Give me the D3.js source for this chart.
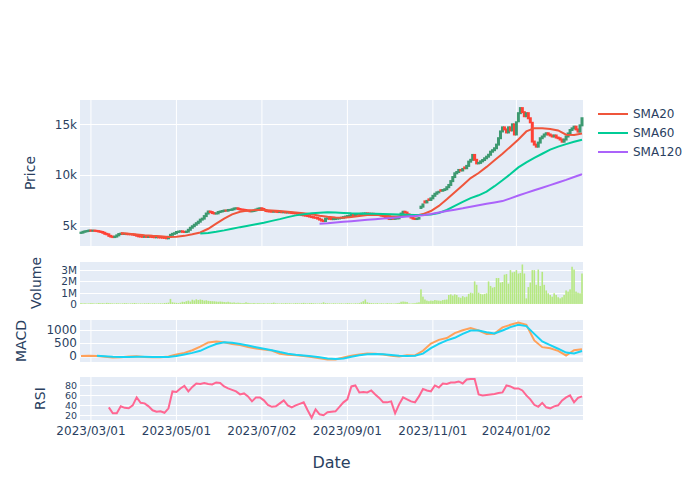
<!DOCTYPE html>
<html>
<head>
<meta charset="utf-8">
<script src="https://cdn.jsdelivr.net/npm/d3@7"></script>
<style>
  body { margin: 0; background: #fff; }
  svg { display: block; }
  text { font-family: "DejaVu Sans", Verdana, sans-serif; }
</style>
</head>
<body>
<div id="chart"></div>
<script>
// x axis: one slot per trading day, labels at a few of them
const tickIdx = [5, 48, 91, 134, 177, 219]
const tickLabels = ["2023/03/01", "2023/05/01", "2023/07/02", "2023/09/01", "2023/11/01", "2024/01/02"]

// daily candles (open / close)
const close = [
  4320,4400,4450,4480,4530,4500,4520,4490,4470,4420,
  4380,4300,4200,4150,4000,3920,3880,3930,4050,4180,
  4220,4190,4200,4170,4160,4150,4120,4080,4010,3950,
  3930,3900,3920,3890,3910,3900,3880,3860,3870,3850,
  3840,3820,3800,3760,3900,4100,4200,4260,4380,4420,
  4450,4400,4380,4420,4600,4800,4950,5100,5250,5400,
  5600,5700,5950,6200,6400,6350,6250,6200,6220,6350,
  6400,6450,6500,6480,6550,6560,6620,6700,6720,6650,
  6600,6580,6550,6500,6480,6420,6450,6500,6600,6680,
  6720,6650,6550,6450,6420,6400,6380,6400,6380,6350,
  6360,6330,6340,6300,6320,6280,6250,6230,6220,6180,
  6100,6050,6020,5990,5950,5900,5850,5800,5780,5700,
  5600,5500,5460,5700,5720,5680,5650,5660,5700,5720,
  5760,5790,5850,5900,5950,6000,6060,6050,6100,6150,
  6120,6180,6200,6220,6200,6150,6180,6120,6100,6080,
  6060,6000,5950,5850,5750,5660,5700,5680,5720,5730,
  5900,6200,6380,6300,6120,5950,5800,5700,5660,5700,
  5760,6880,7100,7300,7450,7540,7700,7950,8150,8290,
  8350,8450,8520,8600,8800,9020,9400,9800,10170,10300,
  10500,10450,10600,10670,10900,11320,11500,11980,11500,11150,
  11200,11350,11480,11650,11810,12000,12300,12450,12640,13000,
  13630,14300,14700,14500,14200,14700,14400,15000,14000,15200,
  16100,16600,16200,15800,16100,15600,15200,13300,13000,12800,
  13200,13630,13800,14000,14120,14000,13900,13800,13900,13700,
  13630,13500,13290,13500,13800,14100,14440,14600,14770,14500,
  14280,14900,15600
]
const open = [
  4290,4320,4400,4450,4480,4530,4500,4520,4490,4470,
  4420,4380,4300,4200,4150,4000,3920,3880,3930,4050,
  4180,4220,4190,4200,4170,4160,4150,4120,4080,4010,
  3950,3930,3900,3920,3890,3910,3900,3880,3860,3870,
  3850,3840,3820,3800,3760,3900,4100,4200,4260,4380,
  4420,4450,4400,4380,4420,4600,4800,4950,5100,5250,
  5400,5600,5700,5950,6200,6400,6350,6250,6200,6220,
  6350,6400,6450,6500,6480,6550,6560,6620,6700,6720,
  6650,6600,6580,6550,6500,6480,6420,6450,6500,6600,
  6680,6720,6650,6550,6450,6420,6400,6380,6400,6380,
  6350,6360,6330,6340,6300,6320,6280,6250,6230,6220,
  6180,6100,6050,6020,5990,5950,5900,5850,5800,5780,
  5700,5600,5500,5460,5700,5720,5680,5650,5660,5700,
  5720,5760,5790,5850,5900,5950,6000,6060,6050,6100,
  6150,6120,6180,6200,6220,6200,6150,6180,6120,6100,
  6080,6060,6000,5950,5850,5750,5660,5700,5680,5720,
  5730,5900,6200,6380,6300,6120,5950,5800,5700,5660,
  5700,6750,6880,7400,7300,7600,7540,7700,7950,8150,
  8290,8500,8450,8520,8600,8800,9020,9400,9800,10170,
  10300,10500,10450,10750,10670,10900,11320,11500,11980,11500,
  11150,11200,11350,11480,11650,11810,12000,12300,12450,12640,
  13000,13630,14300,14700,14500,14200,14700,14400,15000,14000,
  15300,16100,16600,16200,15800,16100,15600,15150,13300,13000,
  12800,13200,13630,13800,14000,14120,14000,13900,13800,13900,
  13700,13630,13500,13290,13500,13800,14100,14440,14600,14770,
  14500,14280,14900
]

// volume in millions, one per day
const volume = [
  0.08,0.06,0.07,0.05,0.06,0.08,0.07,0.05,0.06,0.09,
  0.07,0.08,0.06,0.1,0.08,0.07,0.06,0.05,0.07,0.06,
  0.05,0.06,0.08,0.07,0.05,0.06,0.07,0.09,0.06,0.05,
  0.06,0.05,0.07,0.06,0.08,0.05,0.06,0.07,0.05,0.06,
  0.07,0.06,0.09,0.1,0.12,0.45,0.15,0.12,0.1,0.08,
  0.12,0.2,0.18,0.25,0.3,0.22,0.38,0.32,0.42,0.35,
  0.4,0.36,0.3,0.33,0.28,0.26,0.25,0.24,0.22,0.2,
  0.22,0.2,0.18,0.16,0.2,0.15,0.12,0.14,0.1,0.12,
  0.1,0.08,0.09,0.15,0.1,0.08,0.07,0.09,0.06,0.08,
  0.07,0.06,0.08,0.05,0.07,0.06,0.08,0.12,0.07,0.06,
  0.05,0.07,0.06,0.08,0.06,0.07,0.05,0.06,0.08,0.07,
  0.06,0.08,0.1,0.07,0.06,0.08,0.09,0.07,0.06,0.05,
  0.06,0.07,0.15,0.08,0.07,0.06,0.05,0.07,0.06,0.05,
  0.06,0.07,0.05,0.06,0.08,0.07,0.06,0.05,0.07,0.06,
  0.08,0.15,0.25,0.4,0.15,0.1,0.08,0.07,0.06,0.08,
  0.05,0.07,0.06,0.05,0.08,0.06,0.07,0.05,0.06,0.08,
  0.1,0.2,0.22,0.2,0.18,0.06,0.05,0.07,0.08,0.12,
  0.15,1.3,0.65,0.4,0.3,0.25,0.3,0.28,0.35,0.32,
  0.3,0.28,0.35,0.38,0.4,0.8,0.85,0.75,0.85,0.8,
  0.6,0.55,0.7,0.6,0.65,0.9,1.0,0.95,2.0,1.7,
  1.0,0.9,0.85,0.9,0.95,2.0,1.6,1.45,1.5,2.3,
  2.3,1.9,1.95,2.6,2.65,1.8,3.0,2.8,2.85,3.0,
  2.7,2.75,3.5,2.7,0.5,1.5,1.9,3.0,3.0,1.7,
  3.05,1.6,2.85,1.7,1.2,0.95,0.8,0.65,0.95,0.8,
  0.6,0.5,0.6,0.8,1.2,1.1,1.3,3.3,3.05,1.1,
  1.0,0.95,2.7
]

// moving averages, read every 4 days from their first day
const smaStep = 4
const sma20Start = 20
const sma20 = [4280,4220,4140,4060,4000,3960,3900,3920,4000,4150,
  4330,4700,5200,5700,6120,6380,6500,6550,6560,6500,
  6440,6370,6300,6230,6130,5980,5880,5800,5780,5860,
  5960,6050,6080,6020,5930,5920,5980,5960,6150,6450,
  6950,7600,8300,9000,9700,10200,10800,11450,12100,12800,
  13500,14300,14620,14620,14550,14400,13980,13950,14100]
const sma60Start = 60
const sma60 = [4230,4280,4400,4540,4700,4860,5000,5150,5300,5480,
  5650,5850,6020,6130,6220,6280,6320,6300,6260,6220,
  6200,6180,6170,6150,6120,6100,6080,6060,6060,6100,
  6250,6550,6950,7350,7720,8000,8360,8900,9480,10100,
  10750,11250,11700,12100,12500,12800,13050,13280,13480]
const sma120Start = 120
const sma120 = [5200,5250,5320,5390,5450,5520,5590,5650,5710,5770,
  5840,5900,5960,6040,6160,6300,6450,6580,6720,6880,
  7020,7160,7300,7430,7700,7980,8240,8500,8750,9000,
  9260,9520,9800,10080]

// MACD and signal, every 4 days
const macdStart = 0
const macd = [0,10,0,-30,-55,-45,-20,-10,-40,-50,
  -45,-20,60,120,220,360,520,560,530,460,
  420,350,290,250,210,90,50,30,0,-40,
  -90,-130,-130,-60,10,60,95,90,60,10,
  -20,30,20,200,480,620,690,880,990,1080,
  980,850,860,1100,1200,1290,1200,600,340,300,
  200,20,220,260]
const signalStart = 8
const signal = [10,-10,-30,-40,-35,-30,-30,-35,-40,-35,
  0,60,120,200,340,460,530,510,460,400,
  340,280,220,150,90,50,20,-10,-50,-95,
  -115,-100,-30,30,70,80,65,35,5,0,
  10,90,300,470,600,700,850,980,980,910,
  870,980,1110,1200,1150,850,560,420,280,130,
  100,190]

// RSI, every 2 days
const rsiStart = 14
const rsiStep = 2
const rsi = [36,24,24,38,35,34,40,56,45,44,
  38,30,27,28,25,34,68,67,74,79,
  68,77,84,83,85,83,82,86,85,78,
  74,71,68,62,64,58,48,56,56,50,
  41,37,38,44,50,40,36,40,43,46,
  30,15,32,22,20,26,27,28,37,46,
  52,78,80,66,67,66,70,62,55,46,
  46,48,24,42,56,52,48,46,58,73,
  70,68,80,76,84,83,86,86,88,84,
  92,93,93,62,60,61,62,63,65,66,
  80,78,74,74,70,60,52,41,37,45,
  36,34,38,40,50,56,60,46,55,58]

const seriesNames = ["SMA20", "SMA60", "SMA120"]
const seriesColors = ["#EF553B", "#00CC96", "#AB63FA"]

const left = 80, right = 583
const textColor = "#2a3f5f"
const n = close.length

const svg = d3.select("#chart").append("svg").attr("width", 700).attr("height", 500)

const x = d3.scaleBand().domain(d3.range(n)).range([left, right]).padding(0)
const xc = i => x(i) + x.bandwidth() / 2

const toPoints = (vals, start, step) => vals.map((v, k) => ({ i: start + k * step, v }))

function panel(p) {
    const y = d3.scaleLinear().domain(p.domain).range([p.bottom, p.top])
    const g = svg.append("g")
    g.append("rect")
        .attr("x", left).attr("y", p.top)
        .attr("width", right - left).attr("height", p.bottom - p.top)
        .attr("fill", "#E5ECF6")
    if (p.vgrid) {
        g.selectAll(null).data(tickIdx).join("line")
            .attr("x1", xc).attr("x2", xc)
            .attr("y1", p.top).attr("y2", p.bottom)
            .attr("stroke", "#fff").attr("stroke-width", 1)
    }
    g.selectAll(null).data(p.ticks).join("line")
        .attr("x1", left).attr("x2", right)
        .attr("y1", d => Math.round(y(d)) + 0.5).attr("y2", d => Math.round(y(d)) + 0.5)
        .attr("stroke", "#fff")
        .attr("stroke-width", d => (d === 0 ? 2 : 1))

    const ax = g.append("g")
        .attr("transform", `translate(${left},0)`)
        .call(d3.axisLeft(y).tickValues(p.ticks).tickFormat(p.fmt).tickSize(0).tickPadding(3))
    ax.select(".domain").remove()
    ax.attr("font-family", null).attr("font-size", null)
    ax.selectAll("text").attr("fill", textColor).style("font-size", p.tickFont || "12px")
    const w = d3.max(ax.selectAll("text").nodes(), nd => nd.getComputedTextLength())

    svg.append("text")
        .attr("transform", `translate(${left - 3 - w - 25},${(p.top + p.bottom) / 2}) rotate(-90)`)
        .attr("text-anchor", "middle")
        .attr("dy", "0.35em")
        .attr("fill", textColor)
        .style("font-size", "14px")
        .text(p.title)
    return y
}

const yPrice = panel({ top: 100, bottom: 246, domain: [3000, 17400], ticks: [5000, 10000, 15000],
    fmt: d => d / 1000 + "k", title: "Price", vgrid: true })
const yVol = panel({ top: 262, bottom: 304, domain: [0, 3.72], ticks: [0, 1, 2, 3],
    fmt: d => (d ? d + "M" : "0"), title: "Volume", vgrid: false, tickFont: "10.5px" })
const yMacd = panel({ top: 320, bottom: 362, domain: [-231, 1385], ticks: [0, 500, 1000],
    fmt: d => d, title: "MACD", vgrid: true })
const yRsi = panel({ top: 377, bottom: 420, domain: [10.5, 97], ticks: [20, 40, 60, 80],
    fmt: d => d, title: "RSI", vgrid: true, tickFont: "9.5px" })

// candles
const bw = x.bandwidth()
svg.append("g").selectAll("rect").data(d3.range(n)).join("rect")
    .attr("x", i => xc(i) - bw * 0.25)
    .attr("width", bw * 0.5)
    .attr("y", i => yPrice(Math.max(open[i], close[i])))
    .attr("height", i => Math.abs(yPrice(open[i]) - yPrice(close[i])))
    .attr("fill", i => (close[i] >= open[i] ? "#3D9970" : "#FF4136"))
    .attr("stroke", i => (close[i] >= open[i] ? "#3D9970" : "#FF4136"))
    .attr("stroke-width", 2)

// SMA lines
const priceLine = d3.line().x(d => xc(d.i)).y(d => yPrice(d.v))
const smaData = [toPoints(sma20, sma20Start, smaStep), toPoints(sma60, sma60Start, smaStep), toPoints(sma120, sma120Start, smaStep)]
svg.append("g").selectAll("path").data(smaData).join("path")
    .attr("d", priceLine)
    .attr("fill", "none")
    .attr("stroke", (d, k) => seriesColors[k])
    .attr("stroke-width", 2)

// volume bars
svg.append("g").selectAll("rect").data(volume).join("rect")
    .attr("x", (d, i) => x(i) + bw * 0.1)
    .attr("width", bw * 0.8)
    .attr("y", d => yVol(d))
    .attr("height", d => yVol(0) - yVol(d))
    .attr("fill", "#B6E880")

// MACD
const macdLine = d3.line().x(d => xc(d.i)).y(d => yMacd(d.v))
svg.append("path").datum(toPoints(macd, macdStart, smaStep))
    .attr("d", macdLine).attr("fill", "none").attr("stroke", "#FFA15A").attr("stroke-width", 2)
svg.append("path").datum(toPoints(signal, signalStart, smaStep))
    .attr("d", macdLine).attr("fill", "none").attr("stroke", "#19D3F3").attr("stroke-width", 2)

// RSI
const rsiLine = d3.line().x(d => xc(d.i)).y(d => yRsi(d.v))
svg.append("path").datum(toPoints(rsi, rsiStart, rsiStep))
    .attr("d", rsiLine).attr("fill", "none").attr("stroke", "#FF6692").attr("stroke-width", 2)

// bottom date axis
const xAxis = svg.append("g")
    .attr("transform", "translate(0,420)")
    .call(d3.axisBottom(x).tickValues(tickIdx).tickFormat((d, k) => tickLabels[k]).tickSize(0).tickPadding(6))
xAxis.select(".domain").remove()
xAxis.attr("font-family", null).attr("font-size", null)
xAxis.selectAll("text").attr("fill", textColor).style("font-size", "12px")

svg.append("text")
    .attr("x", (left + right) / 2).attr("y", 468)
    .attr("text-anchor", "middle")
    .attr("fill", textColor)
    .style("font-size", "16px")
    .text("Date")

// legend
const legend = svg.append("g").selectAll("g").data(seriesNames).join("g")
    .attr("transform", (d, k) => `translate(598,${114 + k * 19})`)
legend.append("line")
    .attr("x1", 0).attr("x2", 30)
    .attr("stroke", (d, k) => seriesColors[k])
    .attr("stroke-width", 2)
legend.append("text")
    .attr("x", 35).attr("dy", "0.35em")
    .attr("fill", textColor)
    .style("font-size", "12px")
    .text(d => d)
</script>
</body>
</html>
